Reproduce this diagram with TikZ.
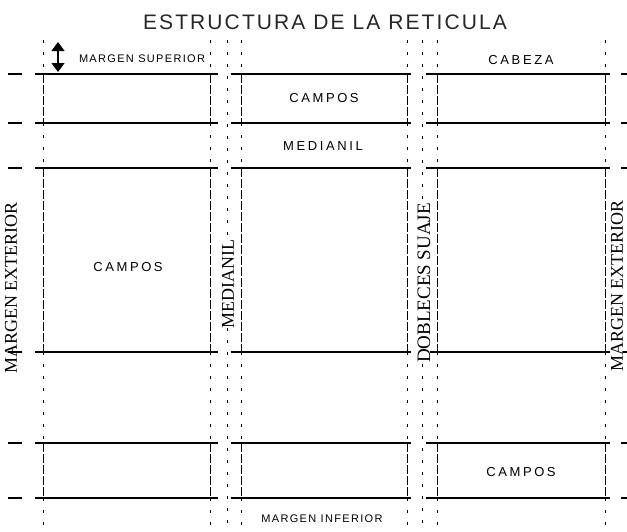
\documentclass[tikz,border=0pt]{standalone}
\usepackage{fontspec}
\setmainfont{Liberation Serif}
\setsansfont{Liberation Sans}
\newfontfamily\ttlfont[LetterSpace=10]{Liberation Sans}
\newfontfamily\lblfont[LetterSpace=20]{Liberation Sans}
\newfontfamily\smlfont[LetterSpace=12]{Liberation Sans}
\usetikzlibrary{arrows.meta}
\begin{document}
\begin{tikzpicture}[x=1pt,y=-1pt,
  hline/.style={line width=1.6pt},
  densev/.style={line width=0.6pt, dash pattern=on 9pt off 2pt},
  sparsev/.style={line width=0.6pt, dash pattern=on 3pt off 9pt},
  lab/.style={font=\lblfont\fontsize{13}{13}\selectfont, inner sep=0pt},
  smalllab/.style={font=\smlfont\fontsize{11}{11}\selectfont, inner sep=0pt},
  vlab/.style={font=\fontsize{18}{18}\selectfont, rotate=90, inner sep=0pt}]
\useasboundingbox (0,0) rectangle (627,531);
\clip (0,0) rectangle (627,531);
% horizontal rules
\foreach \y in {74,123,168,352,443,498}{
  \draw[hline] (8,\y) -- (22,\y);
  \draw[hline] (35,\y) -- (218,\y);
  \draw[hline] (231,\y) -- (411,\y);
  \draw[hline] (426,\y) -- (610,\y);
  \draw[hline] (621,\y) -- (627,\y);
}
% column edges
\foreach \x in {43,210,241,407,437,605}{
  \draw[sparsev] (\x,40) -- (\x,74);
  \draw[densev] (\x,74) -- (\x,123);
  \draw[sparsev] (\x,123) -- (\x,168);
  \draw[densev] (\x,168) -- (\x,352);
  \draw[sparsev] (\x,352) -- (\x,443);
  \draw[densev] (\x,443) -- (\x,498);
  \draw[sparsev] (\x,498) -- (\x,531);
}
% gutter centre lines
\foreach \x in {227,422}{
  \draw[sparsev] (\x,40) -- (\x,531);
}
% title
\node[font=\ttlfont\fontsize{21}{21}\selectfont, inner sep=0pt, text=black!85] (title) at (325,22.5) {ESTRUCTURA DE LA RETICULA};
% margen superior arrow
\coordinate (arrtop) at (58,42);
\coordinate (arrbot) at (58,72);
\draw[{Triangle[width=13pt,length=9pt]}-{Triangle[width=13pt,length=9pt]}, line width=1.3pt] (arrtop) -- (arrbot);
\node[smalllab] (msup) at (142,59) {MARGEN SUPERIOR};
\node[lab] (cabeza) at (521,60) {CABEZA};
\node[lab] (campos1) at (324,98) {CAMPOS};
\node[lab] (medianil1) at (323,146) {MEDIANIL};
\node[lab] (campos2) at (128,267) {CAMPOS};
\node[lab] (campos3) at (521,472) {CAMPOS};
\node[smalllab] (minf) at (322,519) {MARGEN INFERIOR};
% vertical labels
\node[vlab] (mextl) at (11,288) {MARGEN EXTERIOR};
\node[vlab, fill=white] (medianil2) at (228,284) {MEDIANIL};
\node[vlab, font=\fontsize{19}{19}\selectfont, fill=white] (dobleces) at (424,283) {DOBLECES SUAJE};
\node[vlab, fill=white] (mextr) at (617,286) {MARGEN EXTERIOR};
\end{tikzpicture}
\end{document}
